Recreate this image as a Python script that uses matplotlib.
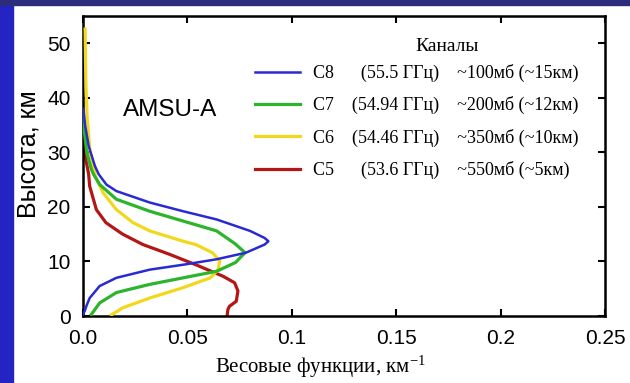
import matplotlib.pyplot as plt
from matplotlib.patches import Rectangle

# weighting functions: (height km, value km^-1)
c8_h = [0.3, 0.9, 2.0, 3.3, 5.5, 7.0, 8.5, 9.4, 10.4, 11.6, 13.1, 13.7, 14.3, 15.6,
        17.7, 19.2, 20.8, 22.9, 24.1, 26.0, 27.5, 31.2, 35.0, 38.0]
c8_w = [0.0, 0.0008, 0.0018, 0.0032, 0.008, 0.016, 0.032, 0.048, 0.064, 0.078, 0.087, 0.0888,
        0.087, 0.080, 0.064, 0.048, 0.032, 0.016, 0.0112, 0.0075, 0.0057, 0.0027, 0.001, 0.0002]

c7_h = [0.3, 2.4, 4.3, 5.8, 7.0, 8.2, 9.8, 11.6, 13.2, 15.6, 17.4, 19.2, 21.4, 24.1,
        26.0, 26.9, 30.0, 34.0, 37.0]
c7_w = [0.004, 0.008, 0.016, 0.032, 0.048, 0.064, 0.073, 0.0776, 0.073, 0.064, 0.048, 0.032,
        0.016, 0.008, 0.005, 0.004, 0.0018, 0.0006, 0.0001]

c6_h = [0.2, 1.5, 3.3, 5.2, 7.0, 8.5, 10.1, 11.6, 13.1, 13.7, 15.6, 17.1, 19.5, 22.6,
        25.6, 30.0, 36.3, 42.2, 47.0, 52.6]
c6_w = [0.0136, 0.019, 0.032, 0.048, 0.061, 0.0647, 0.0655, 0.062, 0.054, 0.048, 0.032, 0.024,
        0.016, 0.0096, 0.006, 0.0034, 0.002, 0.0014, 0.0012, 0.001]

c5_h = [0.0, 1.2, 1.8, 2.7, 4.6, 6.1, 7.3, 9.4, 11.3, 13.1, 15.0, 17.1, 19.5, 23.8,
        26.0, 29.0, 32.4]
c5_w = [0.069, 0.0694, 0.0702, 0.0734, 0.0742, 0.0726, 0.067, 0.054, 0.0415, 0.0287, 0.019,
        0.011, 0.0064, 0.0032, 0.0027, 0.0012, 0.0001]

labels = ["C8      (55.5 ГГц)    ~100мб (~15км)",
          "C7    (54.94 ГГц)    ~200мб (~12км)",
          "C6    (54.46 ГГц)    ~350мб (~10км)",
          "C5      (53.6 ГГц)    ~550мб (~5км)"]
xticks = [0.0, 0.05, 0.1, 0.15, 0.2, 0.25]
xtick_labels = ["0.0", "0.05", "0.1", "0.15", "0.2", "0.25"]
yticks = [0, 10, 20, 30, 40, 50]

plt.rcParams['mathtext.default'] = 'regular'

fig = plt.figure(figsize=(6.3, 3.83), dpi=100)
fig.patches.append(Rectangle((0, 0), 13 / 630, 1, transform=fig.transFigure,
                             color='#2424c4', zorder=0))
fig.patches.append(Rectangle((0, 1 - 5 / 383), 1, 5 / 383, transform=fig.transFigure,
                             color='#2c2c7c', zorder=0))
ax = fig.add_axes([83 / 630, 67 / 383, 522 / 630, 300 / 383])

l5, = ax.plot(c5_w, c5_h, color='#b41616', lw=2.3, zorder=2)
l6, = ax.plot(c6_w, c6_h, color='#f2d81c', lw=2.3, zorder=3)
l7, = ax.plot(c7_w, c7_h, color='#2cb42c', lw=2.3, zorder=4)
l8, = ax.plot(c8_w, c8_h, color='#2a2ad2', lw=1.8, zorder=5)

ax.set_xlim(0, 0.25)
ax.set_ylim(0, 55)
ax.set_xticks(xticks)
ax.set_xticklabels(xtick_labels)
ax.set_yticks(yticks)
ax.tick_params(direction='in', length=5, width=1.5, top=True, right=True,
               labelsize=15, pad=9)
for lab in ax.get_xticklabels() + ax.get_yticklabels():
    lab.set_family('Liberation Sans')
for s in ax.spines.values():
    s.set_linewidth(1.8)

ax.set_xlabel('Весовые функции, км$^{-1}$', family='Liberation Serif', fontsize=15)
ax.xaxis.set_label_coords(0.454, -0.125)
ax.set_ylabel('Высота, км', family='Liberation Sans', fontsize=18)
ax.yaxis.set_label_coords(-0.082, 0.54)

ax.text(0.077, 0.687, 'AMSU-A', transform=ax.transAxes, family='Liberation Sans',
        fontsize=17.5, va='center', ha='left')
ax.text(0.698, 0.898, 'Каналы', transform=ax.transAxes, family='Liberation Serif',
        fontsize=14, va='center', ha='center')

ax.legend([l8, l7, l6, l5], labels, loc='upper left', bbox_to_anchor=(0.3295, 0.84),
          frameon=False, prop={'family': 'Liberation Serif', 'size': 13},
          handlelength=2.5, handletextpad=0.7, labelspacing=0.79,
          borderpad=0, borderaxespad=0)

fig.savefig('out.png', dpi=100)
